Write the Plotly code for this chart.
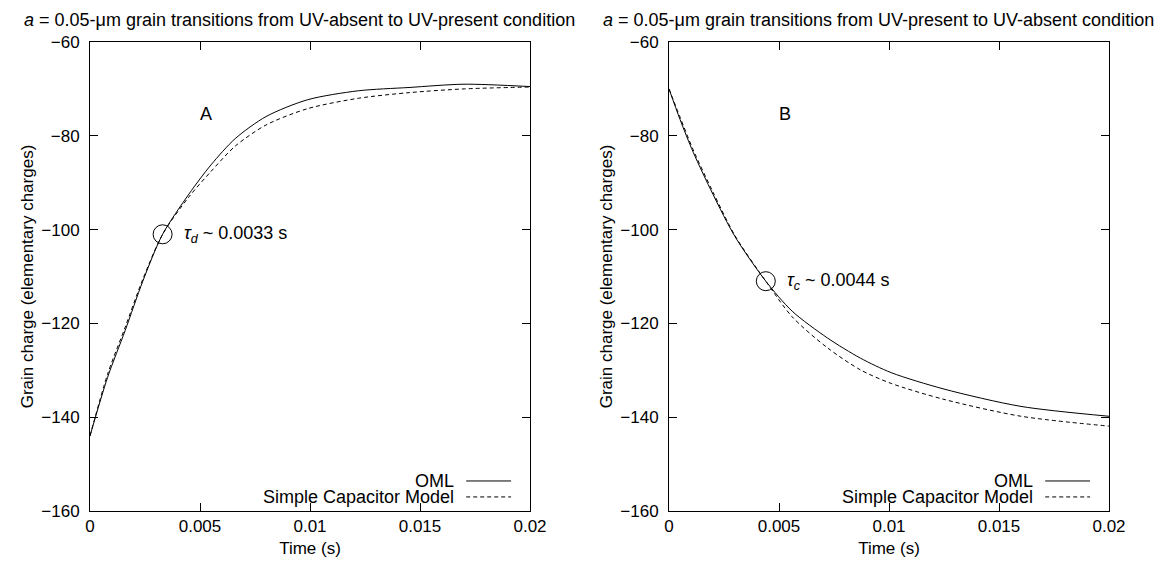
import plotly.graph_objects as go

# ---- data ----
t_a_oml = [0, 0.0008, 0.0016, 0.0024, 0.0033, 0.0045, 0.0055, 0.0066, 0.008, 0.0099, 0.0122, 0.0145, 0.017, 0.02]
y_a_oml = [-144, -131.5, -121.5, -111, -101, -92.4, -86.2, -80.6, -75.9, -72.3, -70.4, -69.7, -69.0, -69.5]
t_a_cap = [0, 0.0008, 0.0016, 0.0024, 0.0033, 0.0045, 0.0055, 0.0066, 0.008, 0.0099, 0.0122, 0.0145, 0.017, 0.02]
y_a_cap = [-144, -130.8, -120.8, -110.6, -101, -93, -87.6, -82.2, -77.7, -74.2, -72, -70.8, -70.0, -69.6]

t_b_oml = [0, 0.0005, 0.0011, 0.002, 0.003, 0.0044, 0.0056, 0.0072, 0.0087, 0.0101, 0.0125, 0.016, 0.02]
y_b_oml = [-70, -76.5, -83.5, -92.5, -101.5, -111, -117.4, -123.1, -127.4, -130.5, -134, -137.7, -139.8]
t_b_cap = [0, 0.0005, 0.0011, 0.002, 0.003, 0.0044, 0.0056, 0.0072, 0.0087, 0.0101, 0.0125, 0.016, 0.02]
y_b_cap = [-70, -76, -83, -92, -101.3, -111, -118.6, -125.2, -129.9, -132.8, -136.2, -139.8, -141.9]

tau_a = [0.0033, -101]
tau_b = [0.0044, -111]

x_ticks = [0, 0.005, 0.01, 0.015, 0.02]
x_ticktext = ["0", "0.005", "0.01", "0.015", "0.02"]
y_ticks = [-160, -140, -120, -100, -80, -60]

titles = ["<i>a</i> = 0.05-\u03bcm grain transitions from UV-absent to UV-present condition",
          "<i>a</i> = 0.05-\u03bcm grain transitions from UV-present to UV-absent condition"]
panel_labels = ["A", "B"]
tau_labels = ["<i>\u03c4<sub>d</sub></i> ~ 0.0033 s", "<i>\u03c4<sub>c</sub></i> ~ 0.0044 s"]
legend_names = ["OML", "Simple Capacitor Model"]

FONT = "Liberation Sans, Arial, sans-serif"
FS = 18
FT = 17
W, H = 1162, 563
L, R, T, B = 82, 61, 34, 60
pw = W - L - R
fig = go.Figure()

panels = [
    (t_a_oml, y_a_oml, t_a_cap, y_a_cap, tau_a),
    (t_b_oml, y_b_oml, t_b_cap, y_b_cap, tau_b),
]
for i, (to, yo, tc, yc, tau) in enumerate(panels):
    xa = "x" if i == 0 else "x2"
    ya = "y" if i == 0 else "y2"
    fig.add_trace(go.Scatter(x=to, y=yo, mode="lines", line=dict(color="black", width=1, shape="spline", smoothing=0.8),
                             xaxis=xa, yaxis=ya, showlegend=False, name=legend_names[0]))
    fig.add_trace(go.Scatter(x=tc, y=yc, mode="lines", line=dict(color="black", width=1, dash="4px,3px", shape="spline", smoothing=0.8),
                             xaxis=xa, yaxis=ya, showlegend=False, name=legend_names[1]))
    fig.add_trace(go.Scatter(x=[tau[0]], y=[tau[1]], mode="markers",
                             marker=dict(symbol="circle-open", size=19, color="black", line=dict(width=1)),
                             xaxis=xa, yaxis=ya, showlegend=False))

w_each = 440 / pw
dom1 = [0, w_each]
dom2 = [1 - w_each, 1]

axis_common = dict(showline=True, linecolor="black", linewidth=1, mirror="ticks", ticks="inside",
                   ticklen=8, tickcolor="black", showgrid=False, zeroline=False, automargin=False,
                   tickfont=dict(family=FONT, size=FT, color="black"))
xt = dict(text="Time (s)", font=dict(family=FONT, size=FT), standoff=6)
yt = dict(text="Grain charge (elementary charges)", font=dict(family=FONT, size=FT), standoff=3)

fig.update_layout(
    width=W, height=H, plot_bgcolor="white", paper_bgcolor="white",
    margin=dict(l=L, r=R, t=T, b=B, autoexpand=False),
    font=dict(family=FONT, color="black"),
    xaxis=dict(domain=dom1, range=[0, 0.02], tickvals=x_ticks, ticktext=x_ticktext, anchor="y", title=xt, **axis_common),
    yaxis=dict(domain=[0, 1], range=[-160, -60], tickvals=y_ticks, anchor="x", title=yt,
               ticklabelstandoff=6, **axis_common),
    xaxis2=dict(domain=dom2, range=[0, 0.02], tickvals=x_ticks, ticktext=x_ticktext, anchor="y2", title=xt, **axis_common),
    yaxis2=dict(domain=[0, 1], range=[-160, -60], tickvals=y_ticks, anchor="x2", title=yt,
                ticklabelstandoff=6, **axis_common),
)

for i in range(2):
    xd = "x domain" if i == 0 else "x2 domain"
    yd = "y domain" if i == 0 else "y2 domain"
    xr = "x" if i == 0 else "x2"
    yr = "y" if i == 0 else "y2"
    tau = panels[i][4]
    # title
    fig.add_annotation(text=titles[i], xref=xd, yref=yd, x=0.477, y=1, yshift=10,
                       xanchor="center", yanchor="bottom", showarrow=False,
                       font=dict(family=FONT, size=FS, color="black"))
    # panel label
    fig.add_annotation(text=panel_labels[i], xref=xr, yref=yr, x=0.00527, y=-75.3,
                       xanchor="center", yanchor="middle", showarrow=False,
                       font=dict(family=FONT, size=FS, color="black"))
    # tau label
    fig.add_annotation(text=tau_labels[i], xref=xr, yref=yr, x=tau[0], y=tau[1], xshift=19,
                       xanchor="left", yanchor="middle", showarrow=False,
                       font=dict(family=FONT, size=FS, color="black"))
    # legend
    for j, (yy, dash) in enumerate([(0.064, "solid"), (0.030, "4px,3px")]):
        fig.add_annotation(text=legend_names[j], xref=xd, yref=yd, x=0.832, y=yy,
                           xanchor="right", yanchor="middle", showarrow=False,
                           font=dict(family=FONT, size=FS, color="black"))
        fig.add_shape(type="line", xref=xd, yref=yd, x0=0.855, x1=0.957, y0=yy, y1=yy,
                      line=dict(color="black", width=1, dash=dash))

fig.write_html("out.html")
